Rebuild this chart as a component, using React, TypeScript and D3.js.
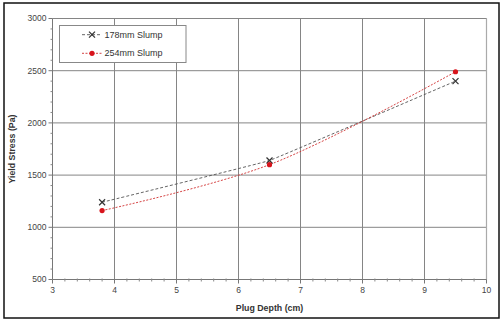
import React from "react";
import * as d3 from "d3";

const depth = [3.8, 6.5, 9.5];
const slump178 = [1240, 1640, 2400];
const slump254 = [1160, 1600, 2490];
const xTicks = [3, 4, 5, 6, 7, 8, 9, 10];
const yTicks = [500, 1000, 1500, 2000, 2500, 3000];
const seriesNames = ["178mm Slump", "254mm Slump"];

export default function App() {
  const W = 503, H = 322;
  const left = 52.5, right = 486.5, top = 18.5, bottom = 279.5;
  const x = d3.scaleLinear().domain([3, 10]).range([left, right]);
  const y = d3.scaleLinear().domain([500, 3000]).range([bottom, top]);
  const xMinor = d3.range(3, 10.001, 0.2).filter(v => Math.abs(v - Math.round(v)) > 0.01);
  const yMinor = d3.range(500, 3001, 100).filter(v => v % 500 !== 0);
  const pts178 = depth.map((d, i) => [x(d), y(slump178[i])] as [number, number]);
  const pts254 = depth.map((d, i) => [x(d), y(slump254[i])] as [number, number]);
  const line178 = d3.line().curve(d3.curveCardinal.tension(0.85))(pts178) || "";
  const line254 = d3.line().curve(d3.curveCatmullRom.alpha(0.5))(pts254) || "";
  const font = "Liberation Sans, Arial, sans-serif";
  const grid = "#858585";
  const cross = (cx: number, cy: number, k: string) => (
    <g key={k} stroke="#333" strokeWidth={1.2}>
      <line x1={cx - 3} y1={cy - 3} x2={cx + 3} y2={cy + 3} />
      <line x1={cx - 3} y1={cy + 3} x2={cx + 3} y2={cy - 3} />
    </g>
  );
  return (
    <svg width={W} height={H} style={{ position: "absolute", left: 0, top: 0, background: "#fff" }} fontFamily={font}>
      <rect x={0} y={0} width={W} height={H} fill="#fff" />
      <rect x={4} y={3} width={495} height={315} fill="none" stroke="#111" strokeWidth={1.5} />
      {/* gridlines */}
      {xTicks.slice(1).map(t => (
        <line key={"gx" + t} x1={x(t)} x2={x(t)} y1={top} y2={bottom} stroke={grid} strokeWidth={1} />
      ))}
      {yTicks.slice(1).map(t => (
        <line key={"gy" + t} x1={left} x2={right} y1={y(t)} y2={y(t)} stroke={grid} strokeWidth={1} />
      ))}
      <line x1={right} x2={right} y1={top} y2={bottom} stroke="#aaa" strokeWidth={1.2} />
      {/* axes */}
      <line x1={left} x2={left} y1={top} y2={bottom} stroke="#777" strokeWidth={1} />
      <line x1={left} x2={right} y1={bottom} y2={bottom} stroke="#777" strokeWidth={1} />
      {yTicks.map(t => (
        <line key={"yt" + t} x1={left - 4} x2={left} y1={y(t)} y2={y(t)} stroke="#777" />
      ))}
      {yMinor.map(t => (
        <line key={"ym" + t} x1={left - 2} x2={left} y1={y(t)} y2={y(t)} stroke="#888" />
      ))}
      {xTicks.map(t => (
        <line key={"xt" + t} x1={x(t)} x2={x(t)} y1={bottom} y2={bottom + 4} stroke="#777" />
      ))}
      {xMinor.map(t => (
        <line key={"xm" + t} x1={x(t)} x2={x(t)} y1={bottom - 1} y2={bottom + 2} stroke="#888" />
      ))}
      {yTicks.map(t => (
        <text key={"yl" + t} x={left - 6} y={y(t)} dy="0.35em" textAnchor="end" fontSize={8.5} fill="#444">{t}</text>
      ))}
      {xTicks.map(t => (
        <text key={"xl" + t} x={x(t)} y={bottom + 13} textAnchor="middle" fontSize={8.5} fill="#444">{t}</text>
      ))}
      <text x={(left + right) / 2} y={311} textAnchor="middle" fontSize={8.8} fontWeight="bold" fill="#333">Plug Depth (cm)</text>
      <text transform={`translate(15,${(top + bottom) / 2}) rotate(-90)`} textAnchor="middle" fontSize={8.8} fontWeight="bold" fill="#333">Yield Stress (Pa)</text>
      {/* series */}
      <path d={line178} fill="none" stroke="#555" strokeWidth={0.9} strokeDasharray="3,2" />
      <path d={line254} fill="none" stroke="#d03030" strokeWidth={0.9} strokeDasharray="2,1.5" />
      {pts178.map((p, i) => cross(p[0], p[1], "c" + i))}
      {pts254.map((p, i) => (
        <circle key={"r" + i} cx={p[0]} cy={p[1]} r={2.6} fill="#d8141c" />
      ))}
      {/* legend */}
      <rect x={59.5} y={25.5} width={126.5} height={37} fill="#fff" stroke="#888" strokeWidth={1} />
      <line x1={82} x2={102} y1={34.7} y2={34.7} stroke="#555" strokeWidth={0.9} strokeDasharray="3,2" />
      {cross(92, 34.7, "lc")}
      <text x={104.5} y={34.7} dy="0.35em" fontSize={9} fill="#333">{seriesNames[0]}</text>
      <line x1={82} x2={102} y1={53.3} y2={53.3} stroke="#d03030" strokeWidth={0.9} strokeDasharray="2,1.5" />
      <circle cx={92} cy={53.3} r={2.6} fill="#d8141c" />
      <text x={104.5} y={53.3} dy="0.35em" fontSize={9} fill="#333">{seriesNames[1]}</text>
    </svg>
  );
}
